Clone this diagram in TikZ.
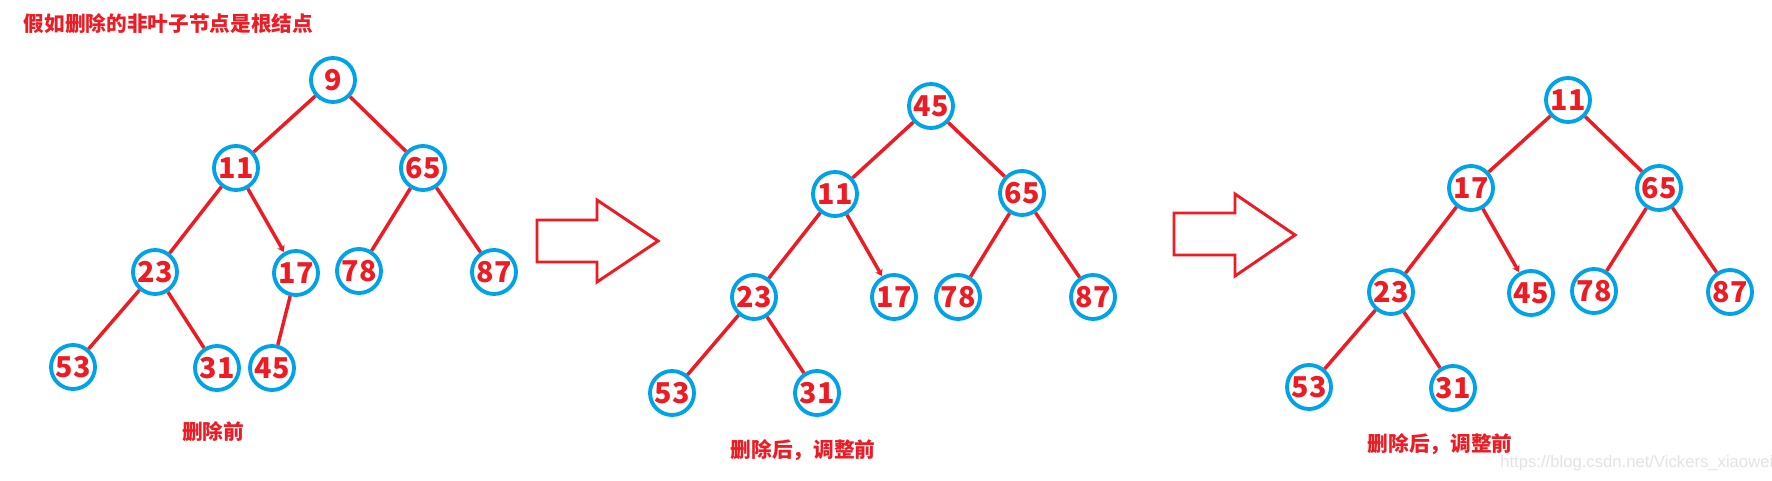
\documentclass[tikz,border=0pt]{standalone}
\usepackage{fontspec}
\setmainfont{Liberation Sans}
\newfontfamily\cjk{Noto Sans CJK SC}
\usetikzlibrary{arrows.meta}
\definecolor{pred}{RGB}{237,28,36}
\definecolor{pblue}{RGB}{0,162,232}
\begin{document}
\begin{tikzpicture}[x=0.75pt,y=-0.75pt,
  num/.style={circle,draw=pblue,line width=2.9pt,minimum size=33pt,inner sep=0pt,text=pred,font=\cjk\bfseries\fontsize{21.5}{21.5}\selectfont},
  edge/.style={draw=pred,line width=2.6pt},
  tipedge/.style={edge,-{Stealth[length=5pt,width=6pt]}},
  lbl/.style={text=pred,font=\cjk\bfseries\fontsize{15.5}{16}\selectfont},
  bigarrow/.style={draw=pred,line width=2.2pt,line join=miter}]
\useasboundingbox (0,0) rectangle (1772,481);

% tree 1
\node[num] (a9) at (333,80) {9};
\node[num] (a11) at (236,168) {11};
\node[num] (a65) at (423,168) {65};
\node[num] (a23) at (155,272) {23};
\node[num] (a17) at (296,273) {17};
\node[num] (a78) at (359,271) {78};
\node[num] (a87) at (494,272) {87};
\node[num] (a53) at (73,367) {53};
\node[num] (a31) at (217,368) {31};
\node[num] (a45) at (272,368) {45};
\draw[edge] (a9) -- (a11);
\draw[edge] (a9) -- (a65);
\draw[edge] (a11) -- (a23);
\draw[tipedge] (a11) -- (a17);
\draw[edge] (a65) -- (a78);
\draw[edge] (a65) -- (a87);
\draw[edge] (a23) -- (a53);
\draw[edge] (a23) -- (a31);
\draw[edge] (a17) -- (a45);

% tree 2
\node[num] (b45) at (931,106) {45};
\node[num] (b11) at (835,194) {11};
\node[num] (b65) at (1022,193) {65};
\node[num] (b23) at (754,297) {23};
\node[num] (b17) at (894,297) {17};
\node[num] (b78) at (958,297) {78};
\node[num] (b87) at (1093,297) {87};
\node[num] (b53) at (672,393) {53};
\node[num] (b31) at (817,393) {31};
\draw[edge] (b45) -- (b11);
\draw[edge] (b45) -- (b65);
\draw[edge] (b11) -- (b23);
\draw[tipedge] (b11) -- (b17);
\draw[edge] (b65) -- (b78);
\draw[edge] (b65) -- (b87);
\draw[edge] (b23) -- (b53);
\draw[edge] (b23) -- (b31);

% tree 3
\node[num] (c11) at (1568,100) {11};
\node[num] (c17) at (1471,188) {17};
\node[num] (c65) at (1659,188) {65};
\node[num] (c23) at (1391,292) {23};
\node[num] (c45) at (1531,293) {45};
\node[num] (c78) at (1594,291) {78};
\node[num] (c87) at (1730,292) {87};
\node[num] (c53) at (1309,387) {53};
\node[num] (c31) at (1453,388) {31};
\draw[edge] (c11) -- (c17);
\draw[edge] (c11) -- (c65);
\draw[edge] (c17) -- (c23);
\draw[tipedge] (c17) -- (c45);
\draw[edge] (c65) -- (c78);
\draw[edge] (c65) -- (c87);
\draw[edge] (c23) -- (c53);
\draw[edge] (c23) -- (c31);

% block arrows
\draw[bigarrow] (537,220) -- (597,220) -- (597,200) -- (658,241) -- (597,282) -- (597,262) -- (537,262) -- cycle;
\draw[bigarrow] (1174,213) -- (1235,213) -- (1235,194) -- (1295,235) -- (1235,276) -- (1235,255) -- (1174,255) -- cycle;

% labels
\node[lbl,anchor=west] (title) at (19,24) {假如删除的非叶子节点是根结点};
\node[lbl] (l1) at (213,432) {删除前};
\node[lbl] (l2) at (803,450) {删除后，调整前};
\node[lbl] (l3) at (1440,444) {删除后，调整前};
\node[anchor=west,text=black!11,font=\fontsize{12.5}{12.5}\selectfont,inner sep=0pt] (wm) at (1500,463) {https://blog.csdn.net/Vickers\_xiaowei};
\end{tikzpicture}
\end{document}
